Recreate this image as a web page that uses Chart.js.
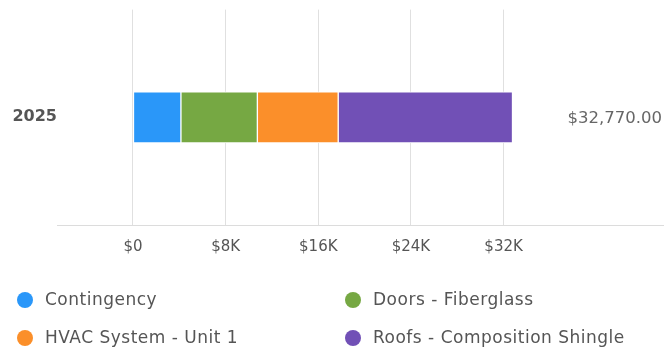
<!DOCTYPE html>
<html>
<head>
<meta charset="utf-8">
<script src="https://cdn.jsdelivr.net/npm/chart.js@4/dist/chart.umd.min.js"></script>
<style>
  html, body { margin: 0; padding: 0; background: #fff; }
  #wrap { width: 664px; height: 354px; }
</style>
</head>
<body>
<div id="wrap"><canvas id="c" width="664" height="354"></canvas></div>
<script>
// Budget breakdown for the year, one stacked bar
const categories = ['2025'];
const seriesNames = ['Contingency', 'Doors - Fiberglass', 'HVAC System - Unit 1', 'Roofs - Composition Shingle'];
const contingency = [4140];
const doorsFiberglass = [6600];
const hvacUnit1 = [6980];
const roofsShingle = [15050];
const seriesColors = ['#2a97f9', '#76a843', '#fb8f2a', '#7150b6'];
const xTickValues = [0, 8000, 16000, 24000, 32000];

const seriesValues = [contingency, doorsFiberglass, hvacUnit1, roofsShingle];

Chart.defaults.font.family = "'DejaVu Sans', sans-serif";
Chart.defaults.color = '#555';

const money = v => v.toLocaleString('en-US', { style: 'currency', currency: 'USD' });

// Total value printed at the right end of each category row
const totalLabel = {
  id: 'totalLabel',
  afterDatasetsDraw(chart) {
    const ctx = chart.ctx;
    const yScale = chart.scales.y;
    ctx.save();
    ctx.font = "16.5px 'DejaVu Sans', sans-serif";
    ctx.fillStyle = '#666';
    ctx.textAlign = 'right';
    ctx.textBaseline = 'middle';
    chart.data.labels.forEach((lab, i) => {
      const total = chart.data.datasets.reduce((s, ds) => s + ds.data[i], 0);
      ctx.fillText(money(total), chart.chartArea.right - 2, yScale.getPixelForValue(i) + 1);
    });
    ctx.restore();
  }
};

// Two-column legend with round markers under the axis
const gridLegend = {
  id: 'gridLegend',
  afterDraw(chart) {
    const ctx = chart.ctx;
    const colX = [25, 353];
    const rowY = [300, 338];
    ctx.save();
    ctx.font = "17px 'DejaVu Sans', sans-serif";
    ctx.letterSpacing = '0.5px';
    ctx.textBaseline = 'middle';
    ctx.textAlign = 'left';
    chart.data.datasets.forEach((ds, i) => {
      const cx = colX[i % 2];
      const cy = rowY[Math.floor(i / 2)];
      ctx.beginPath();
      ctx.arc(cx, cy, 8, 0, Math.PI * 2);
      ctx.fillStyle = ds.backgroundColor;
      ctx.fill();
      ctx.fillStyle = '#555';
      ctx.fillText(ds.label, cx + 20, cy + 1);
    });
    ctx.restore();
  }
};

new Chart(document.getElementById('c'), {
  type: 'bar',
  data: {
    labels: categories,
    datasets: seriesNames.map((name, i) => ({
      label: name,
      data: seriesValues[i],
      backgroundColor: seriesColors[i],
      borderColor: '#ffffff',
      borderWidth: 1,
      borderSkipped: false,
      barThickness: 51
    }))
  },
  options: {
    indexAxis: 'y',
    responsive: false,
    animation: false,
    layout: { padding: { top: 7, left: 0, right: 0, bottom: 0 } },
    plugins: {
      legend: { display: false },
      tooltip: { enabled: false }
    },
    scales: {
      x: {
        stacked: true,
        min: -6560,
        max: 45850,
        afterBuildTicks(scale) {
          scale.ticks = xTickValues.map(v => ({ value: v }));
        },
        afterFit(scale) { scale.height = 129; },
        grid: { color: '#e0e0e0', drawTicks: false, lineWidth: 1 },
        border: { display: true, color: '#dcdcdc', width: 1 },
        ticks: {
          padding: 13,
          color: '#555',
          font: { size: 15 },
          callback: v => v === 0 ? '$0' : '$' + (v / 1000) + 'K'
        }
      },
      y: {
        stacked: true,
        afterFit(scale) { scale.width = 57; },
        grid: { display: false, drawTicks: false },
        border: { display: false },
        ticks: {
          padding: 0,
          color: '#555',
          font: { size: 16, weight: 'bold' }
        }
      }
    }
  },
  plugins: [totalLabel, gridLegend]
});
</script>
</body>
</html>
